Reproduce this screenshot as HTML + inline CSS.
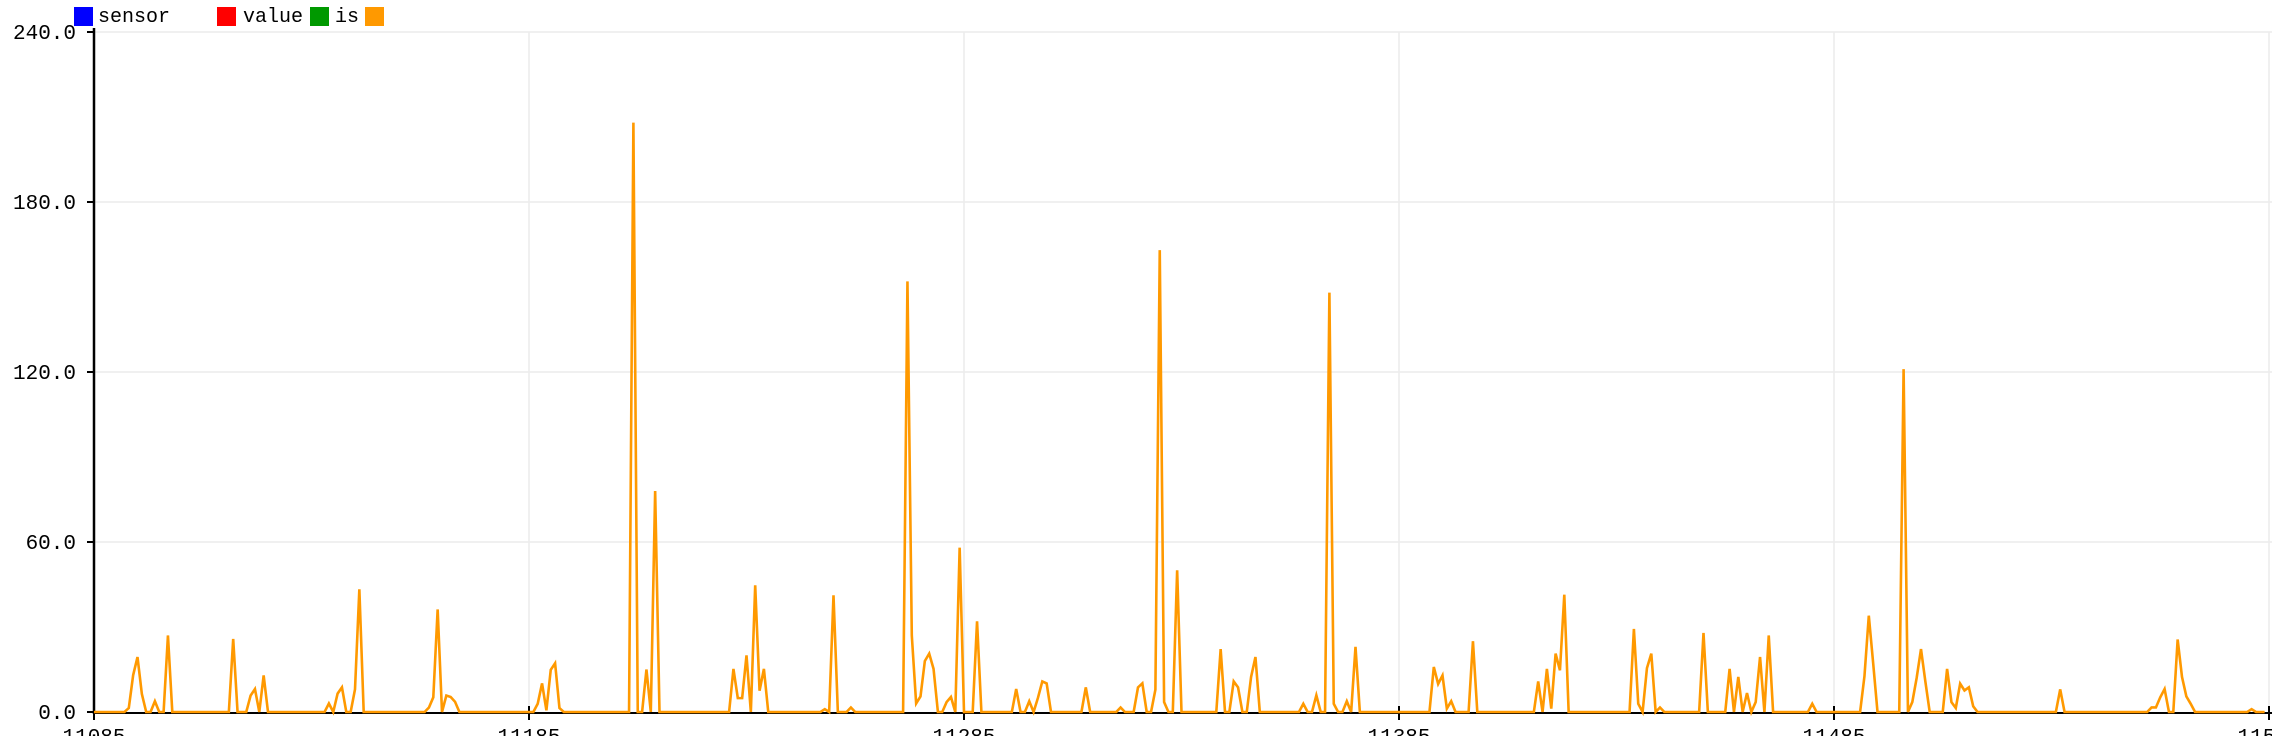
<!DOCTYPE html>
<html>
<head>
<meta charset="utf-8">
<style>
  html, body { margin: 0; padding: 0; background: #fff; }
  body { width: 2272px; height: 736px; overflow: hidden; }
  svg { display: block; }
  text { font-family: "Liberation Mono", "DejaVu Sans Mono", monospace; }
</style>
</head>
<body>
<svg id="chart" width="2272" height="736" viewBox="0 0 2272 736" xmlns="http://www.w3.org/2000/svg">
  <g id="grid"></g>
  <g id="axes"></g>
  <g id="series"></g>
  <g id="legend">
    <rect x="74" y="7" width="19" height="19" fill="#0000ff"/>
    <text x="98" y="22" font-size="20" fill="#000">sensor</text>
    <rect x="217" y="7" width="19" height="19" fill="#ff0000"/>
    <text x="243" y="22" font-size="20" fill="#000">value</text>
    <rect x="310" y="7" width="19" height="19" fill="#009900"/>
    <text x="335" y="22" font-size="20" fill="#000">is</text>
    <rect x="365" y="7" width="19" height="19" fill="#ff9900"/>
  </g>
</svg>
<script>
// ---- chart data ----
const xStart = 11085;
const sampleCount = 500;
const xTickValues = [11085, 11185, 11285, 11385, 11485, 11585];
const xTickLabels = ["11085", "11185", "11285", "11385", "11485", "11585"];
const yTickValues = [0, 60, 120, 180, 240];
const yTickLabels = ["0.0", "60.0", "120.0", "180.0", "240.0"];
// non-zero samples of the orange series (offset from xStart, value)
const peakOffsets = [8,9,10,11,14,17,32,36,37,39,54,56,57,60,61,77,78,79,81,82,83,
  102,103,104,105,106,107,124,127,129,147,148,149,150,152,153,154,168,170,174,
  187,188,189,190,191,192,193,196,197,199,203,212,215,217,218,219,228,236,240,241,244,245,246,249,
  259,262,263,266,267,278,281,284,285,288,290,308,309,310,311,312,317,
  332,334,335,336,337,338,354,355,357,358,360,370,376,378,380,382,383,385,395,
  407,408,409,416,418,419,420,421,426,427,428,429,430,431,432,452,473,474,475,476,479,480,481,482,496];
const peakValues = [1.4,13,19.4,6.4,3.8,27,25.8,5.8,8.1,12.9,3,6.5,8.7,8,43.3,1.6,5.2,36.2,5.8,5.3,3.6,
  2.9,10.1,0.6,14.9,17.2,1.4,208,15,78,15.2,4.9,4.9,20,44.7,7.5,15.2,1,41.2,1.6,
  152,27,3,5.5,18,20.6,15.2,3.5,5.3,58,32,8.1,3.8,5,10.8,10.1,8.7,1.6,8.7,10.1,7.9,163,3.5,50,
  22.2,10.8,8.7,12.4,19.4,2.9,5.9,148,2.9,3.8,23,15.9,9.9,12.9,1.2,3.8,25,
  10.8,15.2,1.2,20.6,14.7,41.4,29.3,2.9,15.5,20.6,1.6,27.9,15.2,12.4,6.7,3.5,19.4,27,2.9,
  12.6,34,17.3,121,3.5,12,22.2,10.8,15.2,3.5,1.4,10,7.6,8.7,2,8,1.6,1.6,5.2,8.1,25.6,12.4,5.5,2.9,1];

// ---- scales ----
const X0 = 94, PX_PER = 4.35;
const Y0 = 712, PX_PER_Y = 680 / 240;
function xs(v) { return X0 + (v - xStart) * PX_PER; }
function ys(v) { return Y0 - v * PX_PER_Y; }

const NS = "http://www.w3.org/2000/svg";
function mk(tag, attrs, parent) {
  const el = document.createElementNS(NS, tag);
  for (const k in attrs) el.setAttribute(k, attrs[k]);
  parent.appendChild(el);
  return el;
}
const grid = document.getElementById('grid');
const axes = document.getElementById('axes');
const series = document.getElementById('series');

// grid + y ticks
yTickValues.forEach((v, i) => {
  if (v > 0) {
    const g = mk('line', {x1: X0, x2: 2272, y1: ys(v), y2: ys(v), stroke: '#ececec', 'stroke-width': 1.5}, grid);
    
    
  }
  const t = mk('line', {x1: X0 - 7, x2: X0, y1: ys(v), y2: ys(v), stroke: '#000', 'stroke-width': 2}, axes);
  
  
  const lbl = mk('text', {x: 76, y: ys(v) + 7, 'text-anchor': 'end', 'font-size': 21, fill: '#000'}, axes);
  lbl.textContent = yTickLabels[i];
  
  
});
xTickValues.forEach((v, i) => {
  if (v > xStart) {
    const g = mk('line', {x1: xs(v), x2: xs(v), y1: 32, y2: Y0, stroke: '#ececec', 'stroke-width': 1.5}, grid);
    
    
  }
  const t = mk('line', {x1: xs(v), x2: xs(v), y1: Y0 - 6, y2: Y0 + 8, stroke: '#000', 'stroke-width': 2}, axes);
  
  
  const lbl = mk('text', {x: xs(v), y: 743, 'text-anchor': 'middle', 'font-size': 21, fill: '#000'}, axes);
  lbl.textContent = xTickLabels[i];
  
  
});
// axis lines
const ya = mk('line', {x1: X0, x2: X0, y1: 28, y2: Y0 + 2, stroke: '#000', 'stroke-width': 2.5}, axes);


const xa = mk('line', {x1: X0, x2: 2272, y1: Y0 + 1, y2: Y0 + 1, stroke: '#000', 'stroke-width': 2}, axes);



// build series
const vals = new Array(sampleCount).fill(0);
peakOffsets.forEach((o, i) => { if (o < sampleCount) vals[o] = peakValues[i]; });
let d = '';
vals.forEach((v, i) => {
  d += (i === 0 ? 'M' : 'L') + xs(xStart + i).toFixed(2) + ',' + ys(v).toFixed(2);
});
const path = mk('path', {d: d, fill: 'none', stroke: '#ff9900', 'stroke-width': 2.6, 'stroke-linejoin': 'miter'}, series);


</script>
</body>
</html>
